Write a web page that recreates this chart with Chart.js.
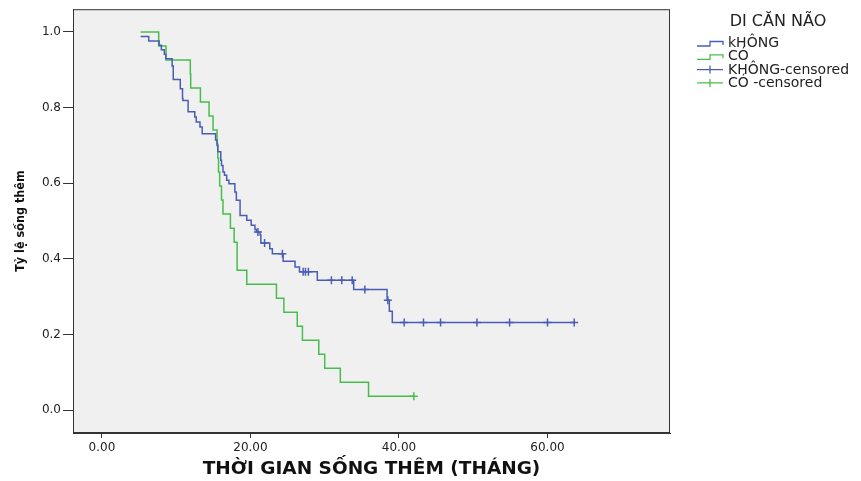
<!DOCTYPE html>
<html>
<head>
<meta charset="utf-8">
<script src="https://cdn.jsdelivr.net/npm/chart.js@4/dist/chart.umd.min.js"></script>
<style>
html, body { margin: 0; padding: 0; background: #fff; }
#wrap { width: 861px; height: 481px; position: relative; }
</style>
</head>
<body>
<div id="wrap"><canvas id="kmChart"></canvas></div>
<script>
// groups and legend text
const groupNames = ["kHÔNG", "CÓ"];
const censorNames = ["KHÔNG-censored", "CÓ -censored"];
const legendTitle = "DI CĂN NÃO";

// KHÔNG group: time of each step and survival after it
const khongTimes = [5.2, 6.3, 7.7, 8.0, 8.4, 8.6, 9.45, 9.6, 10.55, 10.85, 10.9, 11.6, 12.5, 12.7, 13.2, 13.5,
  15.3, 15.5, 15.6, 16.0, 16.1, 16.3, 16.5, 16.8, 17.1, 17.9, 18.1, 18.6, 19.5, 20.1, 20.6, 20.8, 21.3, 21.4, 22.6, 22.95,
  24.4, 26.0, 26.6, 29.0, 33.9, 38.4, 38.7, 39.1, 63.6];
const khongSurv = [0.988, 0.976, 0.965, 0.953, 0.941, 0.929, 0.910, 0.874, 0.850, 0.824, 0.819, 0.789, 0.775, 0.762, 0.749, 0.731,
  0.714, 0.700, 0.683, 0.661, 0.647, 0.630, 0.621, 0.608, 0.599, 0.577, 0.555, 0.515, 0.502, 0.489, 0.478, 0.471, 0.463, 0.442, 0.427, 0.414,
  0.394, 0.379, 0.366, 0.344, 0.319, 0.291, 0.262, 0.232, 0.232];
const khongCensored = [21.0, 21.9, 24.3, 27.1, 27.4, 27.8, 30.9, 32.3, 33.7, 35.4, 38.5, 40.7, 43.3, 45.6, 50.5, 54.9, 60.0, 63.6];

// CÓ group
const coTimes = [5.2, 7.64, 8.63, 11.9, 11.95, 13.26, 14.42, 14.96, 15.5, 15.6, 15.7, 15.85, 16.1, 16.3, 17.3, 17.8, 18.2,
  19.5, 23.5, 24.5, 26.3, 27.0, 29.2, 30.0, 32.1, 35.9, 42.0];
const coSurv = [1.0, 0.963, 0.926, 0.889, 0.852, 0.815, 0.778, 0.741, 0.704, 0.667, 0.630, 0.593, 0.556, 0.519, 0.481, 0.444, 0.370,
  0.333, 0.296, 0.259, 0.222, 0.185, 0.148, 0.111, 0.074, 0.037, 0.037];
const coCensored = [42.0];

const xTicks = [0, 20, 40, 60];
const yTicks = [0, 0.2, 0.4, 0.6, 0.8, 1.0];

const blue = "#4a5db5";
const green = "#45bf4a";
const textFont = "'DejaVu Sans', 'Liberation Sans', Arial, sans-serif";

function survAt(times, surv, t) {
  let s = surv[0];
  for (let i = 0; i < times.length; i++) {
    if (times[i] <= t) s = surv[i];
  }
  return s;
}

function points(times, surv) {
  return times.map((t, i) => ({ x: t, y: surv[i] }));
}

function censorPoints(cens, times, surv) {
  return cens.map(t => ({ x: t, y: survAt(times, surv, t) }));
}

// grey plot background and frame, like SPSS
const plotFrame = {
  id: "plotFrame",
  beforeDraw(chart) {
    const { ctx, chartArea: a } = chart;
    ctx.save();
    ctx.fillStyle = "#f0f0f0";
    ctx.fillRect(a.left, a.top, a.right - a.left, a.bottom - a.top);
    ctx.restore();
  },
  afterDraw(chart) {
    const { ctx, chartArea: a } = chart;
    ctx.save();
    ctx.strokeStyle = "#333";
    ctx.lineWidth = 1;
    ctx.strokeRect(a.left + 0.5, a.top + 0.5, a.right - a.left - 1, a.bottom - a.top - 1);
    ctx.restore();
  }
};

// legend outside the plot, top right
const kmLegend = {
  id: "kmLegend",
  afterDraw(chart) {
    const ctx = chart.ctx;
    ctx.save();
    ctx.fillStyle = "#222";
    ctx.textBaseline = "middle";
    ctx.font = "16px " + textFont;
    ctx.textAlign = "center";
    ctx.fillText(legendTitle, 778, 22);

    const rows = [
      { text: groupNames[0], color: blue, step: true },
      { text: groupNames[1], color: green, step: true },
      { text: censorNames[0], color: blue, step: false },
      { text: censorNames[1], color: green, step: false }
    ];
    ctx.font = "14px " + textFont;
    ctx.textAlign = "left";
    rows.forEach((r, i) => {
      const y = 43 + i * 13.3;
      ctx.strokeStyle = r.color;
      ctx.lineWidth = 1.3;
      ctx.beginPath();
      if (r.step) {
        ctx.moveTo(697, y + 3);
        ctx.lineTo(710, y + 3);
        ctx.lineTo(710, y - 1.5);
        ctx.lineTo(723, y - 1.5);
        ctx.lineTo(723, y + 2);
      } else {
        ctx.moveTo(697, y);
        ctx.lineTo(723, y);
        ctx.moveTo(710, y - 4);
        ctx.lineTo(710, y + 4);
      }
      ctx.stroke();
      ctx.fillStyle = "#222";
      ctx.fillText(r.text, 728, y + 0.5);
    });
    ctx.restore();
  }
};

new Chart(document.getElementById("kmChart"), {
  type: "line",
  data: {
    datasets: [
      { label: groupNames[0], data: points(khongTimes, khongSurv), borderColor: blue, borderWidth: 1.5,
        pointRadius: 0, stepped: "before", fill: false },
      { label: groupNames[1], data: points(coTimes, coSurv), borderColor: green, borderWidth: 1.5,
        pointRadius: 0, stepped: "before", fill: false },
      { label: censorNames[0], type: "scatter", data: censorPoints(khongCensored, khongTimes, khongSurv),
        pointStyle: "cross", pointRadius: 4, borderColor: blue, borderWidth: 1.5, showLine: false },
      { label: censorNames[1], type: "scatter", data: censorPoints(coCensored, coTimes, coSurv),
        pointStyle: "cross", pointRadius: 4, borderColor: green, borderWidth: 1.5, showLine: false }
    ]
  },
  options: {
    responsive: true,
    maintainAspectRatio: false,
    animation: false,
    layout: { padding: { top: 9, right: 191, bottom: 0, left: 0 } },
    plugins: {
      legend: { display: false },
      tooltip: { enabled: false }
    },
    scales: {
      x: {
        type: "linear",
        min: -3.9,
        max: 76.5,
        afterBuildTicks: s => { s.ticks = xTicks.map(v => ({ value: v })); },
        afterFit: s => { s.height = 48; },
        ticks: { color: "#222", padding: 3, font: { size: 12, family: textFont }, callback: v => v.toFixed(2) },
        grid: { display: true, drawOnChartArea: false, drawTicks: true, tickLength: 5, color: "#333" },
        border: { display: true, color: "#333" },
        title: { display: true, text: "THỜI GIAN SỐNG THÊM (THÁNG)", color: "#111",
          font: { size: 18.5, weight: "bold", family: textFont }, padding: { top: 1, bottom: 1 } }
      },
      y: {
        min: -0.06,
        max: 1.06,
        afterBuildTicks: s => { s.ticks = yTicks.map(v => ({ value: v })); },
        afterFit: s => { s.width = 73; },
        ticks: { color: "#222", padding: 2, font: { size: 12, family: textFont }, callback: v => v.toFixed(1) },
        grid: { display: true, drawOnChartArea: false, drawTicks: true, tickLength: 10, color: "#333" },
        border: { display: true, color: "#333" },
        title: { display: true, text: "Tỷ lệ sống thêm", color: "#111",
          font: { size: 12.5, weight: "bold", family: "'Liberation Sans Narrow', 'DejaVu Sans Condensed', Arial, sans-serif" },
          padding: { top: 13, bottom: 0 } }
      }
    }
  },
  plugins: [plotFrame, kmLegend]
});
</script>
</body>
</html>
